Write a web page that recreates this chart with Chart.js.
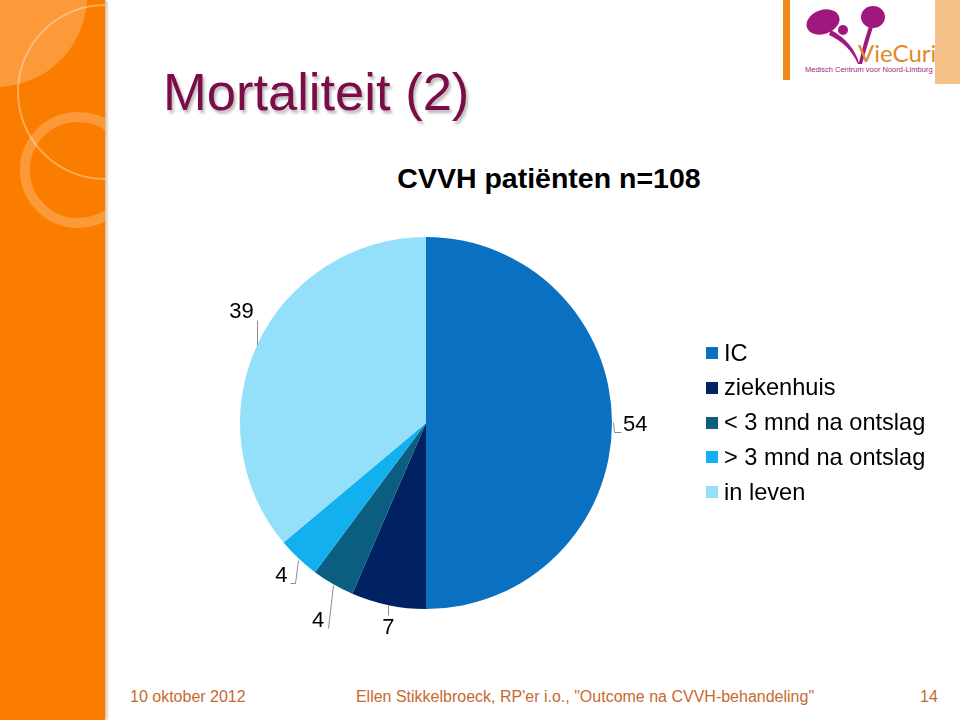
<!DOCTYPE html>
<html>
<head>
<meta charset="utf-8">
<script src="https://cdn.jsdelivr.net/npm/chart.js@4"></script>
<style>
  html, body { margin:0; padding:0; background:#fff; }
  body { width:960px; height:720px; position:relative; overflow:hidden; font-family:"Liberation Sans", Arial, sans-serif; }
  #bar { position:absolute; left:0; top:0; width:105px; height:720px; background:#FB7D00; box-shadow:2px 0 3px rgba(120,60,0,0.35); overflow:hidden; }
  .circ { position:absolute; border-radius:50%; }
  #title { position:absolute; left:163px; top:66px; font-size:52.5px; line-height:52px; color:#7A0C47; white-space:nowrap; text-shadow:2px 3px 3px rgba(0,0,0,0.28); }
  #ctitle { position:absolute; left:349px; top:164px; width:400px; text-align:center; font-size:28.5px; line-height:28px; font-weight:bold; color:#000; white-space:nowrap; }
  .foot { position:absolute; top:688px; font-size:16px; line-height:18px; color:#C8692F; white-space:nowrap; }
  #logo { position:absolute; left:783px; top:0; width:177px; height:84px; }
  canvas { position:absolute; left:0; top:0; }
</style>
</head>
<body>
<div id="bar">
  <div class="circ" style="left:-95px;top:-95px;width:182px;height:182px;background:rgba(255,255,255,0.22);"></div>
  <div class="circ" style="left:17px;top:4px;width:176px;height:176px;border:2px solid rgba(255,255,255,0.35);box-sizing:border-box;"></div>
  <div class="circ" style="left:20px;top:112px;width:116px;height:116px;border:10px solid rgba(255,255,255,0.22);box-sizing:border-box;"></div>
</div>
<div id="logo">
  <svg width="177" height="84" viewBox="0 0 177 84">
    <rect x="0" y="0" width="7" height="80" fill="#F08A1C"/>
    <rect x="7" y="0" width="148" height="84" fill="#fff"/>
    <rect x="152" y="0" width="25" height="84" fill="#F7C28A"/>
    <ellipse cx="40" cy="22" rx="17" ry="12" transform="rotate(-20 40 22)" fill="#A0187E"/>
    <ellipse cx="90" cy="17" rx="12" ry="11" fill="#A0187E"/>
    <circle cx="60" cy="30" r="5" fill="#A0187E"/>
    <path d="M48 30 Q70 42 76 63 Q80 44 86 26 L90 27 Q84 46 79 64 L75 64 Q66 44 46 35 Z" fill="#A0187E"/>
    <text x="75" y="62" font-family="Lato, sans-serif" font-size="24" fill="#E28A2B">VieCuri</text>
    <text x="22" y="72" font-family="'Liberation Sans', sans-serif" font-size="7.5" fill="#9B2A7E">Medisch Centrum voor Noord-Limburg</text>
  </svg>
</div>
<div id="title">Mortaliteit (2)</div>
<div id="ctitle">CVVH patiënten n=108</div>
<div class="foot" style="left:130px;">10 oktober 2012</div>
<div class="foot" style="left:335px;width:500px;text-align:center;">Ellen Stikkelbroeck, RP'er i.o., "Outcome na CVVH-behandeling"</div>
<div class="foot" style="left:920px;">14</div>
<canvas id="c" width="960" height="720"></canvas>
<script>
const categories = ["IC", "ziekenhuis", "< 3 mnd na ontslag", "> 3 mnd na ontslag", "in leven"];
const values = [54, 7, 4, 4, 39];
const colors = ["#0A70C2", "#002163", "#0B5E80", "#12B0EE", "#94DFFA"];

// label offsets relative to the slice's outer mid-point (style only)
const labelStyle = [
  { line: [[1,-1],[2,9],[9,9]], text: [11,2], align: "left" },
  { line: [[0,0],[0,10]], text: [0,23], align: "center" },
  { line: [[0,1],[-5,44]], text: [-15,37], align: "center" },
  { line: [[0,2],[-3,25],[-8,25]], text: [-17,18], align: "center" },
  { line: [[0,1],[0,-24]], text: [-16,-32], align: "center" }
];

const labelPlugin = {
  id: "pieLabels",
  afterDatasetsDraw(chart) {
    const ctx = chart.ctx;
    const meta = chart.getDatasetMeta(0);
    ctx.save();
    meta.data.forEach((arc, i) => {
      const p = arc.getProps(["x","y","startAngle","endAngle","outerRadius"], true);
      const mid = (p.startAngle + p.endAngle) / 2;
      const px = p.x + Math.cos(mid) * p.outerRadius;
      const py = p.y + Math.sin(mid) * p.outerRadius;
      const st = labelStyle[i];
      ctx.strokeStyle = "#8C8C8C";
      ctx.lineWidth = 1;
      ctx.beginPath();
      st.line.forEach((o, k) => {
        const x = Math.round(px + o[0]) + 0.5, y = Math.round(py + o[1]) + 0.5;
        if (k === 0) ctx.moveTo(x, y); else ctx.lineTo(x, y);
      });
      ctx.stroke();
      ctx.fillStyle = "#000";
      ctx.font = "22px 'Liberation Sans', Arial, sans-serif";
      ctx.textAlign = st.align;
      ctx.textBaseline = "middle";
      ctx.fillText(String(chart.data.datasets[0].data[i]), px + st.text[0], py + st.text[1]);
    });
    ctx.restore();
  }
};

const legendPlugin = {
  id: "sideLegend",
  afterDraw(chart) {
    const ctx = chart.ctx;
    const a = chart.chartArea;
    const x0 = a.right + 94, y0 = a.top + 116, step = 34.8;
    ctx.save();
    ctx.font = "23.6px 'Liberation Sans', Arial, sans-serif";
    ctx.textBaseline = "middle";
    ctx.textAlign = "left";
    chart.data.labels.forEach((lab, i) => {
      const y = y0 + i * step;
      ctx.fillStyle = chart.data.datasets[0].backgroundColor[i];
      ctx.fillRect(x0, Math.round(y - 6), 12, 12);
      ctx.fillStyle = "#000";
      ctx.fillText(lab, x0 + 18, y + 1);
    });
    ctx.restore();
  }
};

new Chart(document.getElementById("c"), {
  type: "pie",
  data: {
    labels: categories,
    datasets: [{ data: values, backgroundColor: colors, borderWidth: 0 }]
  },
  options: {
    responsive: false,
    devicePixelRatio: 1,
    animation: false,
    layout: { padding: { left: 240, top: 237, right: 348, bottom: 111 } },
    plugins: { legend: { display: false }, tooltip: { enabled: false }, title: { display: false } }
  },
  plugins: [labelPlugin, legendPlugin]
});
</script>
</body>
</html>
